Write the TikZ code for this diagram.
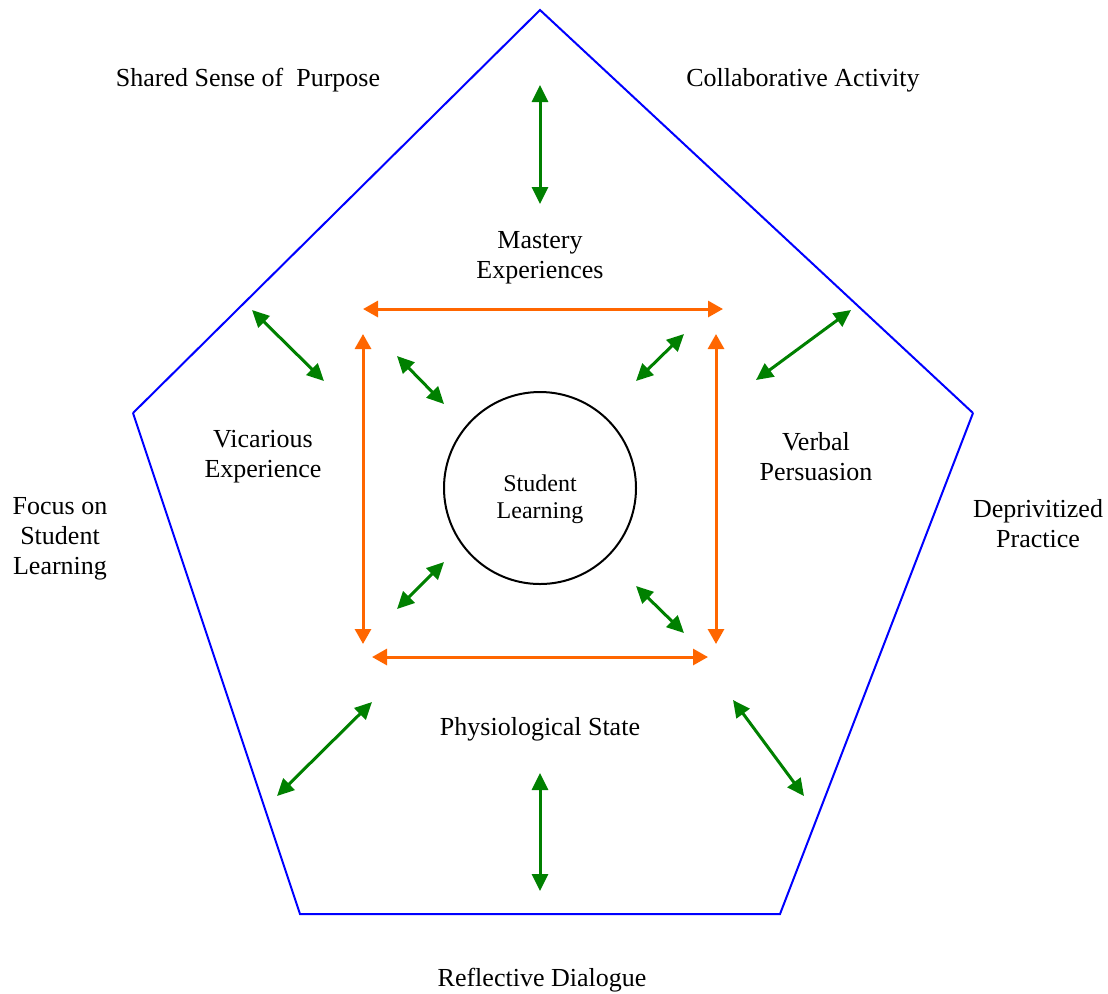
\documentclass[tikz,border=0pt]{standalone}
\usepackage{fontspec}
\setmainfont{Liberation Serif}
\usepackage{tikz}
\usetikzlibrary{arrows.meta,positioning}

\definecolor{penblue}{RGB}{0,0,255}
\definecolor{linkgreen}{RGB}{0,128,0}
\definecolor{boxorange}{RGB}{255,102,0}

\begin{document}
\begin{tikzpicture}[
    x=0.5pt, y=-0.5pt,
    label/.style={align=center, font=\fontsize{13}{15}\selectfont, inner sep=0pt},
    side/.style={draw=penblue, line width=1pt},
    garrow/.style={{Triangle[length=8.5pt,width=8pt]}-{Triangle[length=8.5pt,width=8pt]}, draw=linkgreen, fill=linkgreen, line width=1.5pt},
    oarrow/.style={{Triangle[length=7.5pt,width=8pt]}-{Triangle[length=7.5pt,width=8pt]}, draw=boxorange, fill=boxorange, line width=1.5pt}
]
\useasboundingbox (0,0) rectangle (1108,993);

% pentagon
\coordinate (ptop) at (540,10);
\coordinate (pleft) at (133,413);
\coordinate (pright) at (973,413);
\coordinate (pbl) at (300,914);
\coordinate (pbr) at (780,914);
\draw[side] (pleft) -- (ptop) -- (pright);
\draw[side] (pleft) -- (pbl) -- (pbr) -- (pright);

% centre
\node[circle, draw, line width=1pt, minimum size=96pt] (student) at (540,488) {};
\node[align=center, font=\fontsize{12}{13.5}\selectfont, inner sep=0pt]
      (studenttext) at ([yshift=-5.5pt]student.center) {Student\\Learning};

% inner labels
\node[label] (mastery) at (540,258) {Mastery\\Experiences};
\node[label] (vicarious) at (263,457) {Vicarious\\Experience};
\node[label] (verbal) at (816,457) {Verbal\\Persuasion};
\node[label] (physio) at (540,729) {Physiological State};

% outer labels
\node[label] (purpose) at (248,80) {Shared Sense of~~Purpose};
\node[label] (collab) at (803,80) {Collaborative Activity};
\node[label] (focus) at (60,539) {Focus on\\Student\\Learning};
\node[label] (depriv) at (1038,524) {Deprivitized\\Practice};
\node[label] (reflect) at (542,980) {Reflective Dialogue};

% orange square
\coordinate (otl) at (363,309);
\coordinate (otr) at (723,309);
\coordinate (olt) at (363,334);
\coordinate (olb) at (363,644);
\coordinate (ort) at (716,334);
\coordinate (orb) at (716,644);
\coordinate (obl) at (372,657);
\coordinate (obr) at (708,657);
\draw[oarrow] (otl) -- (otr);
\draw[oarrow] (olt) -- (olb);
\draw[oarrow] (ort) -- (orb);
\draw[oarrow] (obl) -- (obr);

% green links to the circle
\coordinate (ga1) at (397,356);
\coordinate (ga2) at (444,404);
\coordinate (gb1) at (684,334);
\coordinate (gb2) at (636,381);
\coordinate (gc1) at (444,562);
\coordinate (gc2) at (397,609);
\coordinate (gd1) at (636,586);
\coordinate (gd2) at (684,633);
\draw[garrow] (ga1) -- (ga2);
\draw[garrow] (gb1) -- (gb2);
\draw[garrow] (gc1) -- (gc2);
\draw[garrow] (gd1) -- (gd2);

% green links to the pentagon
\coordinate (gt1) at (540,85);
\coordinate (gt2) at (540,204);
\coordinate (gu1) at (540,773);
\coordinate (gu2) at (540,891);
\coordinate (gul1) at (252,310);
\coordinate (gul2) at (324,381);
\coordinate (gur1) at (851,310);
\coordinate (gur2) at (756,380);
\coordinate (gll1) at (372,702);
\coordinate (gll2) at (277,796);
\coordinate (glr1) at (733,700);
\coordinate (glr2) at (804,796);
\draw[garrow] (gt1) -- (gt2);
\draw[garrow] (gu1) -- (gu2);
\draw[garrow] (gul1) -- (gul2);
\draw[garrow] (gur1) -- (gur2);
\draw[garrow] (gll1) -- (gll2);
\draw[garrow] (glr1) -- (glr2);

\end{tikzpicture}
\end{document}
